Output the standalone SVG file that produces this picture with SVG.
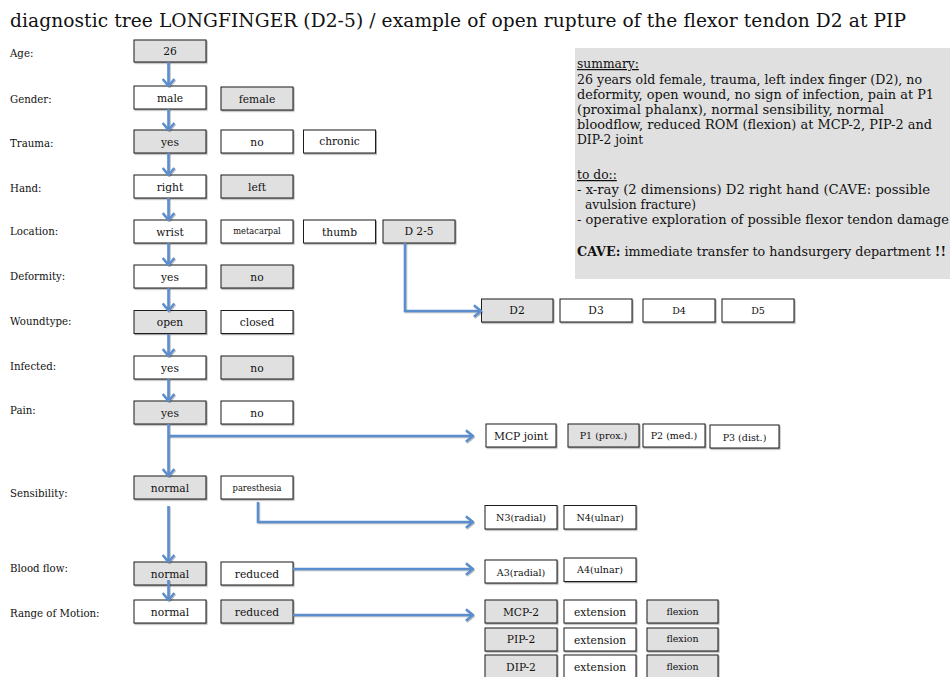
<svg xmlns="http://www.w3.org/2000/svg" width="950" height="677" viewBox="0 0 950 677">
<style>
text{font-family:"DejaVu Serif","Liberation Serif",serif;fill:#111}
.title{font-size:18.6px}
.lab{font-size:10.2px}
.box rect{stroke:#1a1a1a;stroke-width:1;filter:url(#sh)}
.w{fill:#fff}
.g{fill:#e0e0e0}
.box text{font-size:10.7px;text-anchor:middle}
.box text.s{font-size:9.5px}
.box text.xs{font-size:8.3px}
.sum{font-size:12.3px}
.u{text-decoration:underline}
.con path{fill:none;stroke:#5b8dcc;stroke-width:2.6;marker-end:url(#ah);filter:url(#sh2)}
</style>
<defs>
<filter id="sh" x="-10%" y="-20%" width="130%" height="160%"><feDropShadow dx="1" dy="1.2" stdDeviation="0.7" flood-color="#000" flood-opacity="0.35"/></filter>
<filter id="sh2" filterUnits="userSpaceOnUse" x="0" y="0" width="950" height="677"><feDropShadow dx="0.8" dy="1" stdDeviation="0.7" flood-color="#000" flood-opacity="0.3"/></filter>
<marker id="ah" viewBox="0 0 10 14" refX="8.6" refY="7" markerWidth="10" markerHeight="14" markerUnits="userSpaceOnUse" orient="auto">
<path d="M1.5,1.2 L8.6,7 L1.5,12.8" fill="none" stroke="#5b8dcc" stroke-width="2.4"/>
</marker>
</defs>
<rect width="950" height="677" fill="#fff"/>
<text class="title" x="10" y="26.5" textLength="896" lengthAdjust="spacing">diagnostic tree LONGFINGER (D2-5) / example of open rupture of the flexor tendon D2 at PIP</text>

<g id="labels" class="lab">
<text x="10" y="57">Age:</text>
<text x="10" y="103">Gender:</text>
<text x="10" y="147">Trauma:</text>
<text x="10" y="192">Hand:</text>
<text x="10" y="235">Location:</text>
<text x="10" y="280">Deformity:</text>
<text x="10" y="325">Woundtype:</text>
<text x="10" y="370">Infected:</text>
<text x="10" y="414">Pain:</text>
<text x="10" y="497">Sensibility:</text>
<text x="10" y="572">Blood flow:</text>
<text x="10" y="617">Range of Motion:</text>
</g>

<g id="summary">
<rect x="575" y="48" width="375" height="231" fill="#e0e0e0"/>
<text class="sum u" x="577" y="68">summary:</text>
<text class="sum" x="577" y="84" textLength="345" lengthAdjust="spacingAndGlyphs">26 years old female, trauma, left index finger (D2), no</text>
<text class="sum" x="577" y="99" textLength="357" lengthAdjust="spacingAndGlyphs">deformity, open wound, no sign of infection, pain at P1</text>
<text class="sum" x="577" y="114" textLength="307" lengthAdjust="spacingAndGlyphs">(proximal phalanx), normal sensibility, normal</text>
<text class="sum" x="577" y="129" textLength="355" lengthAdjust="spacingAndGlyphs">bloodflow, reduced ROM (flexion) at MCP-2, PIP-2 and</text>
<text class="sum" x="577" y="144">DIP-2 joint</text>
<text class="sum u" x="577" y="179">to do::</text>
<text class="sum" x="577" y="194" textLength="353" lengthAdjust="spacingAndGlyphs">- x-ray (2 dimensions) D2 right hand (CAVE: possible</text>
<text class="sum" x="585" y="209">avulsion fracture)</text>
<text class="sum" x="577" y="224" textLength="372" lengthAdjust="spacingAndGlyphs">- operative exploration of possible flexor tendon damage</text>
<text class="sum" x="577" y="256" textLength="369" lengthAdjust="spacingAndGlyphs"><tspan font-weight="bold">CAVE:</tspan> immediate transfer to handsurgery department <tspan font-weight="bold">!!</tspan></text>
</g>

<g id="age-26" class="box"><rect class="g" x="134" y="40" width="72" height="22"/><text x="170" y="55">26</text></g>
<g id="gender-male" class="box"><rect class="w" x="134" y="86" width="72" height="23"/><text x="170" y="101.5">male</text></g>
<g id="gender-female" class="box"><rect class="g" x="221" y="87" width="72" height="23"/><text x="257" y="103">female</text></g>
<g id="trauma-yes" class="box"><rect class="g" x="134" y="130" width="72" height="23"/><text x="170" y="145.5">yes</text></g>
<g id="trauma-no" class="box"><rect class="w" x="221" y="130" width="72" height="23"/><text x="257" y="145.5">no</text></g>
<g id="trauma-chronic" class="box"><rect class="w" x="303.5" y="130" width="72" height="23"/><text x="339.5" y="145">chronic</text></g>
<g id="hand-right" class="box"><rect class="w" x="134" y="175" width="72" height="23"/><text x="170" y="190.5">right</text></g>
<g id="hand-left" class="box"><rect class="g" x="221" y="175" width="72" height="23"/><text x="257" y="190.5">left</text></g>
<g id="loc-wrist" class="box"><rect class="w" x="134" y="220" width="72" height="23"/><text x="170" y="235.5">wrist</text></g>
<g id="loc-metacarpal" class="box"><rect class="w" x="221" y="220" width="72" height="23"/><text class="xs" x="257" y="234">metacarpal</text></g>
<g id="loc-thumb" class="box"><rect class="w" x="303.5" y="220" width="72" height="23"/><text x="339.5" y="235.5">thumb</text></g>
<g id="loc-d25" class="box"><rect class="g" x="383" y="220" width="72" height="23"/><text x="419" y="235">D 2-5</text></g>
<g id="def-yes" class="box"><rect class="w" x="134" y="265" width="72" height="23"/><text x="170" y="280.5">yes</text></g>
<g id="def-no" class="box"><rect class="g" x="221" y="265" width="72" height="23"/><text x="257" y="280.5">no</text></g>
<g id="wound-open" class="box"><rect class="g" x="134" y="310.5" width="72" height="23"/><text x="170" y="326">open</text></g>
<g id="wound-closed" class="box"><rect class="w" x="221" y="310.5" width="72" height="23"/><text x="257" y="326">closed</text></g>
<g id="inf-yes" class="box"><rect class="w" x="134" y="356" width="72" height="23"/><text x="170" y="371.5">yes</text></g>
<g id="inf-no" class="box"><rect class="g" x="221" y="356" width="72" height="23"/><text x="257" y="371.5">no</text></g>
<g id="pain-yes" class="box"><rect class="g" x="134" y="401" width="72" height="23"/><text x="170" y="416.5">yes</text></g>
<g id="pain-no" class="box"><rect class="w" x="221" y="401" width="72" height="23"/><text x="257" y="416.5">no</text></g>
<g id="sens-normal" class="box"><rect class="g" x="134" y="476" width="72" height="23"/><text x="170" y="491.5">normal</text></g>
<g id="sens-paresthesia" class="box"><rect class="w" x="221" y="476" width="72" height="23"/><text class="xs" x="257" y="490.5">paresthesia</text></g>
<g id="blood-normal" class="box"><rect class="g" x="134" y="562" width="72" height="23"/><text x="170" y="577.5">normal</text></g>
<g id="blood-reduced" class="box"><rect class="w" x="221" y="562" width="72" height="23"/><text x="257" y="577.5">reduced</text></g>
<g id="rom-normal" class="box"><rect class="w" x="134" y="600" width="72" height="23"/><text x="170" y="615.5">normal</text></g>
<g id="rom-reduced" class="box"><rect class="g" x="221" y="600" width="72" height="23"/><text x="257" y="615.5">reduced</text></g>

<g id="d2" class="box"><rect class="g" x="481.5" y="299" width="71.5" height="23"/><text x="517" y="314">D2</text></g>
<g id="d3" class="box"><rect class="w" x="560" y="299" width="72" height="23"/><text x="596" y="314">D3</text></g>
<g id="d4" class="box"><rect class="w" x="643" y="299" width="72" height="23"/><text class="s" x="679" y="313.5">D4</text></g>
<g id="d5" class="box"><rect class="w" x="722" y="299" width="72" height="23"/><text class="s" x="758" y="313.5">D5</text></g>

<g id="mcp-joint" class="box"><rect class="w" x="486" y="424" width="70" height="23"/><text x="521" y="439.5">MCP joint</text></g>
<g id="p1" class="box"><rect class="g" x="568" y="424" width="71" height="23"/><text class="s" x="603.5" y="439">P1 (prox.)</text></g>
<g id="p2" class="box"><rect class="w" x="643" y="424" width="62" height="23"/><text class="s" x="674" y="439">P2 (med.)</text></g>
<g id="p3" class="box"><rect class="w" x="710" y="425" width="69" height="23"/><text class="s" x="744.5" y="440.5">P3 (dist.)</text></g>

<g id="n3" class="box"><rect class="w" x="485" y="505.5" width="72" height="23.5"/><text class="s" x="521" y="521">N3(radial)</text></g>
<g id="n4" class="box"><rect class="w" x="564" y="505.5" width="72" height="23.5"/><text class="s" x="600" y="521">N4(ulnar)</text></g>
<g id="a3" class="box"><rect class="w" x="485" y="560" width="72" height="23"/><text class="s" x="521" y="575.5">A3(radial)</text></g>
<g id="a4" class="box"><rect class="w" x="564" y="558" width="72" height="23.5"/><text class="s" x="600" y="573">A4(ulnar)</text></g>

<g id="mcp2" class="box"><rect class="g" x="485" y="600" width="72" height="23"/><text x="521" y="615.5">MCP-2</text></g>
<g id="mcp2-ext" class="box"><rect class="w" x="564" y="600" width="72" height="23"/><text x="600" y="616">extension</text></g>
<g id="mcp2-flex" class="box"><rect class="g" x="647" y="600" width="71" height="23"/><text class="s" x="682.5" y="615">flexion</text></g>
<g id="pip2" class="box"><rect class="g" x="485" y="628" width="72" height="23"/><text x="521" y="643">PIP-2</text></g>
<g id="pip2-ext" class="box"><rect class="w" x="564" y="628" width="72" height="23"/><text x="600" y="643.5">extension</text></g>
<g id="pip2-flex" class="box"><rect class="g" x="647" y="628" width="71" height="23"/><text class="s" x="682.5" y="642">flexion</text></g>
<g id="dip2" class="box"><rect class="g" x="485" y="655" width="72" height="23"/><text x="521" y="670.5">DIP-2</text></g>
<g id="dip2-ext" class="box"><rect class="w" x="564" y="655" width="72" height="23"/><text x="600" y="671">extension</text></g>
<g id="dip2-flex" class="box"><rect class="g" x="647" y="655" width="71" height="23"/><text class="s" x="682.5" y="669.5">flexion</text></g>

<g id="connectors" class="con">
<path d="M168.5,62 V86"/>
<path d="M168.5,109 V130"/>
<path d="M168.5,153 V175"/>
<path d="M168.5,198 V220"/>
<path d="M168.5,243 V265"/>
<path d="M168.5,288 V310.5"/>
<path d="M168.5,334 V356"/>
<path d="M168.5,379 V401"/>
<path d="M168.5,424 V476"/>
<path d="M168.5,436 H473"/>
<path d="M168.5,506 V562"/>
<path d="M258,502 V522 H473"/>
<path d="M293,569 H473"/>
<path d="M168.5,580 V600"/>
<path d="M293,615 H473"/>
<path d="M405,243 V311 H481"/>
</g>
</svg>
